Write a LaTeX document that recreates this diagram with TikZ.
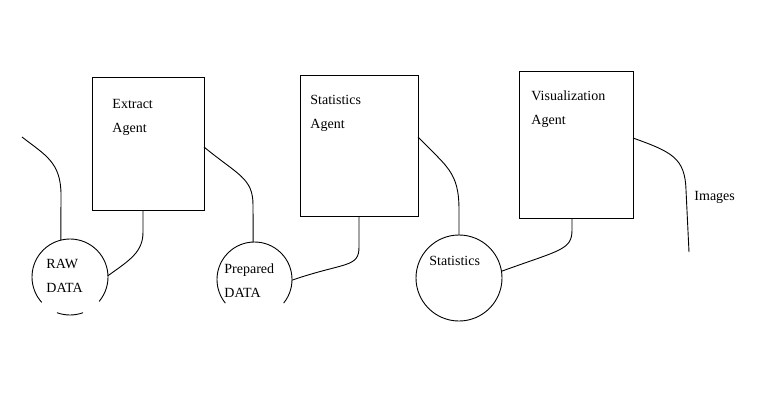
\documentclass[tikz,border=0pt]{standalone}
\usepackage{fontspec}
\setmainfont{Liberation Serif}
\usetikzlibrary{calc}
\begin{document}
\begin{tikzpicture}[x=1pt,y=1pt,line width=0.9pt,
  agentbox/.style={draw,rectangle,inner sep=0,outer sep=0},
  datacircle/.style={circle,inner sep=0,outer sep=0},
  lbl/.style={font=\fontsize{14}{24}\selectfont,align=left,inner sep=0,anchor=base west},
  wire/.style={draw,line width=0.9pt}]
\useasboundingbox (0,0) rectangle (781,400);
% agent boxes
\node[agentbox,minimum width=112pt,minimum height=133pt] (ext) at (148,256.5) {};
\node[agentbox,minimum width=118pt,minimum height=141pt] (sta) at (359,254.5) {};
\node[agentbox,minimum width=114pt,minimum height=147pt] (vis) at (576,255.5) {};
% data circles
\node[datacircle,minimum size=76pt] (raw) at (70,123) {};
\node[datacircle,minimum size=75pt] (prep) at (254.5,120.5) {};
\node[datacircle,draw,minimum size=86pt] (stc) at (459,122) {};
\draw ([shift={(raw.center)}]-40:38) arc[start angle=-40,end angle=222,radius=38];
\draw ([shift={(raw.center)}]-70:38) arc[start angle=-70,end angle=-110,radius=38];
\draw ([shift={(prep.center)}]-39:37.5) arc[start angle=-39,end angle=219,radius=37.5];
% labels (base = baseline of last line)
\node[lbl] (extl) at (112,268) {Extract\\Agent};
\node[lbl] (stal) at (310,272) {Statistics\\Agent};
\node[lbl] (visl) at (531,276) {Visualization\\Agent};
\node[lbl] (rawl) at (46,108) {RAW\\DATA};
\node[lbl] (prepl) at (224,103) {Prepared\\DATA};
\node[lbl] (stcl) at (429,135) {Statistics};
\node[lbl] (imgl) at (694,200) {Images};
% free ends
\coordinate (in1) at (22,263);
\coordinate (out1) at (689,148);
% connectors
\draw[wire] (in1) .. controls (45,245) and (61,238) .. (61,205) -- (raw.104);
\draw[wire] ($(ext.south)+(-5,0)$) -- (143,168) .. controls (143,148) and (130,140) .. (raw.2);
\draw[wire] ($(ext.east)+(0,-3.5)$) .. controls (238,225) and (253,222) .. (253,195) -- (prep.92);
\draw[wire] (sta.south) -- (359,153) .. controls (359,132) and (345,138) .. (prep.-1);
\draw[wire] ($(sta.east)+(0,8.5)$) .. controls (447,233) and (459,228) .. (459,190) -- (stc.north);
\draw[wire] ($(vis.south)+(-4,0)$) -- (572,170) .. controls (572,150) and (560,150) .. (stc.9);
\draw[wire] ($(vis.east)+(0,6.5)$) .. controls (672,248) and (685,242) .. (686,210) -- (out1);
\end{tikzpicture}
\end{document}
